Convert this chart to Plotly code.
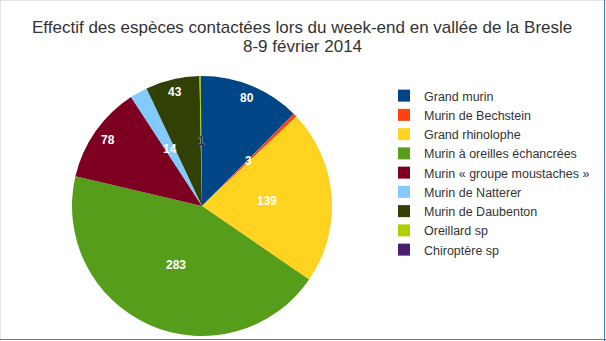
import math
import plotly.graph_objects as go

species = ["Grand murin", "Murin de Bechstein", "Grand rhinolophe",
           "Murin à oreilles échancrées", "Murin « groupe moustaches »",
           "Murin de Natterer", "Murin de Daubenton", "Oreillard sp", "Chiroptère sp"]
counts = [80, 3, 139, 283, 78, 14, 43, 1, 1]
colors = ["#004586", "#ff420e", "#ffd320", "#579d1c", "#7e0021",
          "#83caff", "#314004", "#aecf00", "#4b1f6f"]
# label placement (fraction of radius) and label colour, as in the reference
label_radius = [0.9, 0.5, 0.5, 0.5, 0.88, 0.5, 0.9, 0.5, 0.5]
label_colors = ["white"] * 8 + ["#2a2a50"]

W, H = 606, 341
cx, cy, R = 202, 206, 130

fig = go.Figure(go.Pie(
    labels=species, values=counts, sort=False, direction="clockwise", rotation=0,
    marker=dict(colors=colors, line=dict(width=0)),
    textinfo="none",
    domain=dict(x=[(cx - R) / W, (cx + R) / W], y=[1 - (cy + R) / H, 1 - (cy - R) / H]),
    hoverinfo="label+value",
))

total = sum(counts)
annotations = []
cum = 0
for v, rf, lc in zip(counts, label_radius, label_colors):
    mid = (cum + v / 2) / total * 2 * math.pi
    cum += v
    px = cx + rf * R * math.sin(mid)
    py = cy - rf * R * math.cos(mid)
    annotations.append(dict(
        x=px / W, y=1 - py / H, xref="paper", yref="paper", showarrow=False,
        text=f"<b>{v}</b>", xanchor="center", yanchor="middle",
        font=dict(family="Liberation Sans", size=12, color=lc)))

annotations.append(dict(
    x=302 / W, y=1 - 27 / H, xref="paper", yref="paper", showarrow=False,
    text="Effectif des espèces contactées lors du week-end en vallée de la Bresle",
    xanchor="center", yanchor="middle",
    font=dict(family="Liberation Sans", size=17, color="#333333")))
annotations.append(dict(
    x=302 / W, y=1 - 47 / H, xref="paper", yref="paper", showarrow=False,
    text="8-9 février 2014", xanchor="center", yanchor="middle",
    font=dict(family="Liberation Sans", size=17, color="#333333")))

fig.update_layout(
    width=W, height=H, margin=dict(l=0, r=0, t=0, b=0),
    paper_bgcolor="white", plot_bgcolor="white",
    font=dict(family="Liberation Sans", color="#333333"),
    annotations=annotations,
    legend=dict(x=384 / W, xanchor="left", y=1 - 81 / H, yanchor="top",
                font=dict(family="Liberation Sans", size=12.5, color="#333333"),
                tracegroupgap=0, itemwidth=30, bgcolor="rgba(0,0,0,0)"),
    shapes=[
        dict(type="line", xref="paper", yref="paper", x0=0.5 / W, x1=0.5 / W, y0=0, y1=1,
             line=dict(color="#e4e4e4", width=1)),
        dict(type="line", xref="paper", yref="paper", x0=0, x1=1, y0=1 - 0.5 / H, y1=1 - 0.5 / H,
             line=dict(color="#e4e4e4", width=1)),
        dict(type="line", xref="paper", yref="paper", x0=1 - 1.5 / W, x1=1 - 1.5 / W, y0=0, y1=1,
             line=dict(color="#4f81bd", width=1)),
        dict(type="line", xref="paper", yref="paper", x0=0, x1=1, y0=1.5 / H, y1=1.5 / H,
             line=dict(color="#4f81bd", width=1)),
    ],
)

fig.write_html("out.html")
